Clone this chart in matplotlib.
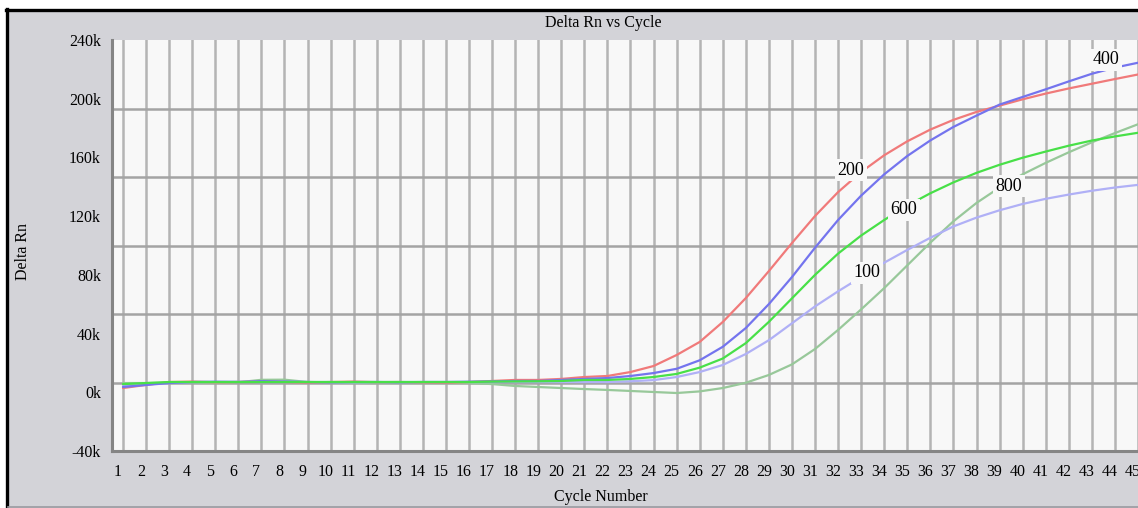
import matplotlib
matplotlib.use("Agg")
import matplotlib.pyplot as plt
import matplotlib.transforms as mtransforms
from matplotlib.patches import Rectangle
from matplotlib.lines import Line2D
import numpy as np

plt.rcParams['font.family'] = ['Liberation Serif', 'DejaVu Serif']

# ---------------- data (values in thousands) ----------------
cycles = list(range(1, 46))

series_names = ["800", "100", "200", "400", "600"]

rn_200 = [2.9, 5.0, 7.0, 7.3, 6.8, 7.0, 7.4, 7.0, 6.6, 7.0, 7.3, 6.9, 7.0, 6.7, 6.5,
          7.0, 7.7, 8.4, 8.4, 9.1, 10.4, 11.1, 13.8, 17.9, 25.4, 34.3, 47.9, 64.2,
          82.6, 101.7, 120.1, 136.4, 150.1, 161.5, 171.0, 179.0, 185.6, 191.0,
          195.3, 199.6, 203.5, 207.0, 210.2, 213.4, 216.5]

rn_400 = [3.6, 5.0, 6.3, 7.0, 7.2, 7.0, 7.6, 7.3, 7.0, 6.8, 7.0, 7.0, 6.8, 7.0, 7.0,
          7.2, 7.4, 7.7, 7.7, 8.4, 9.1, 9.7, 11.1, 13.1, 16.0, 21.8, 31.0, 43.8,
          60.1, 78.5, 98.5, 117.4, 134.0, 148.5, 161.0, 171.6, 180.8, 188.5,
          196.0, 201.2, 206.4, 211.8, 217.0, 221.2, 224.5]

rn_600 = [5.6, 6.3, 7.0, 7.0, 7.0, 7.0, 7.0, 7.0, 7.0, 7.0, 7.0, 7.0, 7.0, 7.0, 7.0,
          7.0, 7.3, 7.4, 7.5, 7.7, 8.4, 8.4, 9.1, 10.4, 12.5, 16.8, 23.0, 33.5,
          48.0, 64.0, 80.0, 94.5, 106.8, 117.4, 127.2, 135.6, 143.0, 149.5,
          155.0, 159.8, 164.0, 168.0, 171.5, 174.3, 176.8]

rn_800 = [6.3, 6.3, 6.5, 6.8, 6.5, 6.8, 8.5, 8.6, 7.0, 6.6, 6.5, 6.3, 6.3, 6.3, 6.3,
          6.3, 5.6, 4.3, 3.6, 2.9, 2.2, 1.6, 0.9, 0.2, -0.5, 0.6, 2.9, 6.5,
          11.8, 19.0, 29.5, 42.5, 56.5, 71.0, 86.5, 102.0, 116.5, 129.0,
          139.5, 148.5, 156.3, 163.5, 170.3, 176.6, 182.6]

rn_100 = [4.3, 5.6, 6.3, 7.0, 7.0, 7.2, 7.0, 7.0, 7.0, 7.0, 6.8, 7.0, 7.0, 7.0, 7.0,
          7.0, 7.0, 7.0, 7.0, 7.0, 7.0, 7.0, 7.5, 8.3, 10.4, 13.8, 18.6, 26.1,
          35.5, 47.0, 58.5, 68.8, 78.5, 88.3, 97.0, 105.3, 113.0, 119.0,
          124.0, 128.3, 131.8, 134.7, 137.3, 139.5, 141.3]

# curve labels: (text, cycle, value)
label_text = ["200", "400", "600", "800", "100"]
label_cycle = [32.56, 43.6, 34.85, 39.4, 33.25]
label_value = [151.4, 226.4, 124.2, 140.5, 81.3]

ytick_values = [-40, 0, 40, 80, 120, 160, 200, 240]
ytick_labels = ["-40k", "0k", "40k", "80k", "120k", "160k", "200k", "240k"]

# ---------------- styling ----------------
W, H = 1138, 508
fig = plt.figure(figsize=(W / 100, H / 100), dpi=100)
fig.patch.set_facecolor("white")

gray_bg = "#d3d3d8"
plot_bg = "#f8f8f8"

# outer gray panel
panel = Rectangle((6 / W, 0), 1.2, (H - 9.5) / H,
                  transform=fig.transFigure, facecolor=gray_bg,
                  edgecolor="none", zorder=-10)
fig.patches.append(panel)
# black border on left and top, thin gray line at the bottom
fig.lines.append(Line2D([6.5 / W, 6.5 / W], [0, (H - 9) / H], transform=fig.transFigure,
                        color="black", lw=2.4, zorder=-5))
fig.lines.append(Line2D([5.5 / W, 1.0], [(H - 9.5) / H, (H - 9.5) / H], transform=fig.transFigure,
                        color="black", lw=2.4, zorder=-5))
fig.lines.append(Line2D([8 / W, 1.0], [1.5 / H, 1.5 / H], transform=fig.transFigure,
                        color="#9a9aa0", lw=1.2, zorder=-5))

left, right = 112 / W, 1.0
bottom, top = (H - 451) / H, (H - 40) / H
ax = fig.add_axes([left, bottom, right - left, top - bottom])
ax.set_zorder(5)
ax.set_facecolor(plot_bg)

ax.set_xlim(0.524, 44.94)
ax.set_ylim(-40, 240)

colors = {
    "200": "#f07a7a",
    "400": "#7474ee",
    "600": "#48e048",
    "800": "#98c89a",
    "100": "#b0b0f6",
}
data = {"200": rn_200, "400": rn_400, "600": rn_600, "800": rn_800, "100": rn_100}

for name in series_names:
    ax.plot(cycles, data[name], color=colors[name], lw=1.6, zorder=3,
            solid_capstyle="round", solid_joinstyle="round")

for t, cx, cy in zip(label_text, label_cycle, label_value):
    ax.text(cx, cy, t, fontsize=13, ha="center", va="center", zorder=5,
            bbox=dict(boxstyle="square,pad=0.15", facecolor=plot_bg, edgecolor="none"))

# ticks and grid
ax.set_xticks(cycles)
ax.set_xticklabels([str(c) for c in cycles])
ax.set_yticks(ytick_values)
ax.set_yticklabels(ytick_labels)
ax.set_yticks([-40 + k * 280 / 6 for k in range(1, 6)], minor=True)
ax.tick_params(axis="both", which="both", length=0, labelsize=11.5, colors="black")
ax.tick_params(axis="x", pad=9)
ax.tick_params(axis="y", pad=8)

ax.grid(False)
ax.xaxis.grid(True, which="major", color="#b4b4b4", lw=1.8, zorder=1)
ax.yaxis.grid(True, which="minor", color="#a4a4a4", lw=1.8, zorder=1)
ax.set_axisbelow(True)

offset = mtransforms.ScaledTranslation(-5 / 100, 0, fig.dpi_scale_trans)
for lab in ax.get_xticklabels():
    lab.set_transform(lab.get_transform() + offset)

for s in ["top", "right"]:
    ax.spines[s].set_visible(False)
for s in ["left", "bottom"]:
    ax.spines[s].set_color("#858585")
    ax.spines[s].set_linewidth(2.2)

fig.text(603 / W, 1 - 23 / H, "Delta Rn vs Cycle", ha="center", va="center", fontsize=11.5)
fig.text(601 / W, 1 - 497 / H, "Cycle Number", ha="center", va="center", fontsize=11.5)
fig.text(23 / W, 1 - 252 / H, "Delta Rn", ha="center", va="center", rotation=90, fontsize=11.5)

fig.savefig("out.png", dpi=100, facecolor=fig.get_facecolor())
